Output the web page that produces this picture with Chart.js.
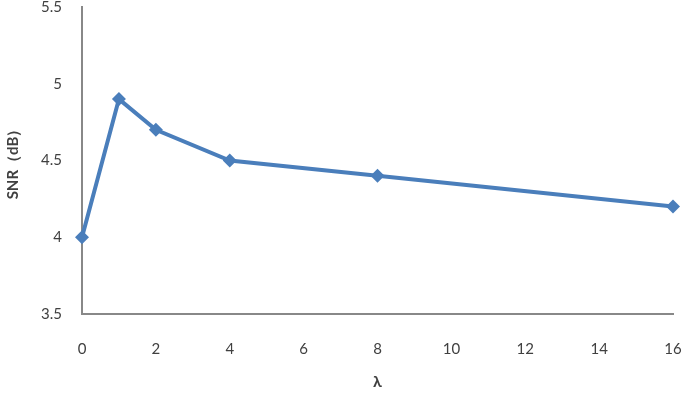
<!DOCTYPE html>
<html>
<head>
<meta charset="utf-8">
<script src="https://cdn.jsdelivr.net/npm/chart.js@4/dist/chart.umd.min.js"></script>
<style>
  html, body { margin: 0; padding: 0; background: #fff; }
  #wrap { width: 685px; height: 395px; }
</style>
</head>
<body>
<div id="wrap"><canvas id="snrChart" width="685" height="395"></canvas></div>
<script>
// data
const lambdas = [0, 1, 2, 4, 8, 16];
const snrValues = [4.0, 4.9, 4.7, 4.5, 4.4, 4.2];
const xTicks = [0, 2, 4, 6, 8, 10, 12, 14, 16];
const yTicks = [3.5, 4, 4.5, 5, 5.5];

const lineColor = '#4a7ebb';
const axisColor = '#888888';
const textColor = '#404040';
const fontFamily = 'Lato, "Open Sans", sans-serif';

new Chart(document.getElementById('snrChart'), {
  type: 'line',
  data: {
    datasets: [{
      data: lambdas.map((x, i) => ({ x: x, y: snrValues[i] })),
      borderColor: lineColor,
      backgroundColor: lineColor,
      borderWidth: 4,
      pointStyle: 'rectRot',
      pointRadius: 7,
      pointBorderWidth: 0,
      tension: 0,
      clip: false
    }]
  },
  options: {
    responsive: false,
    animation: false,
    layout: { padding: { top: 5, right: 12, left: 0, bottom: 0 } },
    plugins: { legend: { display: false }, tooltip: { enabled: false } },
    scales: {
      x: {
        type: 'linear',
        min: 0,
        max: 16,
        afterBuildTicks: s => { s.ticks = xTicks.map(v => ({ value: v })); },
        afterFit: s => { s.height = 81; s.paddingLeft = 0; s.paddingRight = 0; },
        grid: { display: false, drawTicks: false },
        border: { display: true, color: axisColor, width: 2 },
        ticks: { padding: 26, color: textColor, font: { family: fontFamily, size: 15 },
                 callback: v => String(v) },
        title: {
          display: true,
          text: 'λ',
          color: textColor,
          padding: { top: 14 },
          font: { family: fontFamily, size: 16, weight: 'bold' }
        }
      },
      y: {
        min: 3.5,
        max: 5.5,
        afterBuildTicks: s => { s.ticks = yTicks.map(v => ({ value: v })); },
        afterFit: s => { s.width = 82; s.paddingTop = 0; s.paddingBottom = 0; },
        grid: { display: false, drawTicks: false },
        border: { display: true, color: axisColor, width: 2 },
        ticks: { padding: 20, color: textColor, font: { family: fontFamily, size: 15 },
                 callback: v => String(v) },
        title: {
          display: true,
          text: 'SNR（dB）',
          color: textColor,
          padding: { bottom: 4 },
          font: { family: fontFamily, size: 15, weight: 'bold' }
        }
      }
    }
  }
});
</script>
</body>
</html>
